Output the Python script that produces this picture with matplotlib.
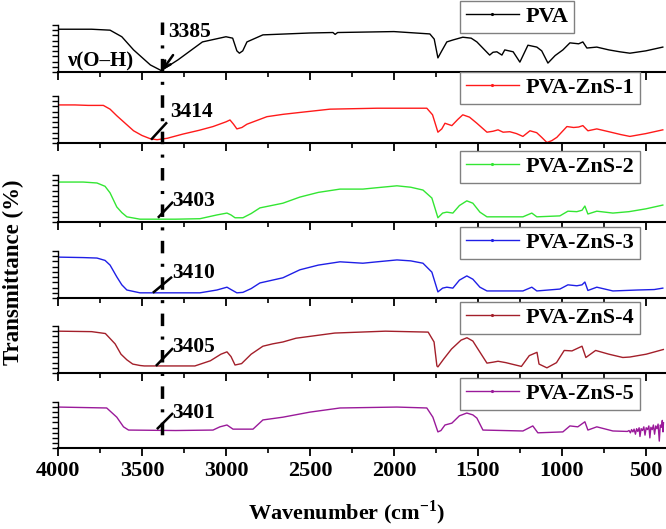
import numpy as np
import matplotlib
matplotlib.use("Agg")
import matplotlib.pyplot as plt
from matplotlib.lines import Line2D
from matplotlib import transforms

plt.rcParams["font.family"] = ["Liberation Serif", "DejaVu Serif"]
plt.rcParams["font.weight"] = "bold"
plt.rcParams["mathtext.fontset"] = "custom"
plt.rcParams["mathtext.rm"] = "Liberation Serif:bold"
plt.rcParams["mathtext.bf"] = "Liberation Serif:bold"
plt.rcParams["lines.scale_dashes"] = False

# ---- data (relative transmittance, 0 = axis, 1 = top) ----
names = ["PVA", "PVA-ZnS-1", "PVA-ZnS-2", "PVA-ZnS-3", "PVA-ZnS-4", "PVA-ZnS-5"]
colors = ["#000000", "#ff1a1a", "#33e633", "#1f1fe6", "#a31f2a", "#9a1a9a"]

wn_pva = [4000, 3800, 3690, 3620, 3550, 3450, 3385, 3285, 3140, 3000, 2960, 2935,
          2920, 2900, 2875, 2780, 2500, 2363, 2350, 2335, 2000, 1786, 1760, 1738,
          1715, 1685, 1650, 1590, 1540, 1506, 1430, 1410, 1387, 1357, 1340, 1290,
          1250, 1202, 1149, 1120, 1083, 1040, 994, 952, 900, 875, 851, 792, 720,
          655, 595, 500, 399]
t_pva = [0.91, 0.91, 0.89, 0.75, 0.47, 0.15, 0.03, 0.26, 0.64, 0.75, 0.72, 0.45,
         0.40, 0.45, 0.64, 0.79, 0.83, 0.84, 0.80, 0.84, 0.86, 0.81, 0.70, 0.30,
         0.45, 0.64, 0.68, 0.74, 0.72, 0.64, 0.36, 0.42, 0.43, 0.36, 0.47, 0.43,
         0.21, 0.57, 0.53, 0.45, 0.19, 0.35, 0.47, 0.62, 0.60, 0.64, 0.51, 0.53,
         0.47, 0.43, 0.40, 0.45, 0.53]

wn_z1 = [4000, 3900, 3820, 3730, 3690, 3650, 3600, 3550, 3500, 3450, 3410, 3350,
         3256, 3160, 3077, 3000, 2976, 2955, 2935, 2905, 2875, 2756, 2660, 2560,
         2381, 2100, 1804, 1770, 1738, 1715, 1696, 1655, 1620, 1590, 1550, 1506,
         1446, 1410, 1380, 1350, 1310, 1270, 1232, 1190, 1150, 1120, 1089, 1060,
         1030, 970, 930, 900, 875, 845, 792, 720, 650, 595, 500, 399]
t_z1 = [0.81, 0.81, 0.80, 0.80, 0.72, 0.58, 0.42, 0.26, 0.16, 0.09, 0.07, 0.10,
        0.19, 0.27, 0.35, 0.45, 0.49, 0.40, 0.30, 0.33, 0.40, 0.56, 0.61, 0.65,
        0.72, 0.74, 0.74, 0.60, 0.23, 0.30, 0.42, 0.37, 0.50, 0.60, 0.55, 0.42,
        0.23, 0.25, 0.28, 0.23, 0.24, 0.20, 0.14, 0.26, 0.22, 0.12, 0.01, 0.05,
        0.12, 0.35, 0.33, 0.34, 0.37, 0.26, 0.30, 0.24, 0.18, 0.14, 0.20, 0.28]

wn_z2 = [4000, 3850, 3768, 3720, 3690, 3650, 3620, 3590, 3512, 3300, 3155, 3054,
         2994, 2970, 2946, 2899, 2850, 2798, 2661, 2560, 2450, 2321, 2185, 2100,
         1982, 1900, 1827, 1774, 1738, 1710, 1685, 1649, 1610, 1566, 1530, 1488,
         1446, 1232, 1179, 1149, 1012, 964, 911, 880, 863, 845, 792, 696, 600,
         500, 399]
t_z2 = [0.85, 0.85, 0.83, 0.76, 0.62, 0.32, 0.20, 0.11, 0.06, 0.06, 0.07, 0.15,
        0.19, 0.15, 0.09, 0.09, 0.18, 0.30, 0.40, 0.53, 0.63, 0.70, 0.70, 0.73,
        0.77, 0.74, 0.68, 0.51, 0.09, 0.19, 0.21, 0.19, 0.35, 0.45, 0.40, 0.21,
        0.11, 0.11, 0.19, 0.11, 0.13, 0.23, 0.22, 0.25, 0.34, 0.17, 0.23, 0.19,
        0.22, 0.28, 0.36]

wn_z3 = [4000, 3850, 3768, 3720, 3690, 3650, 3620, 3590, 3512, 3300, 3155, 3054,
         2994, 2970, 2935, 2899, 2850, 2798, 2661, 2560, 2450, 2321, 2185, 2100,
         1982, 1900, 1827, 1774, 1738, 1710, 1685, 1649, 1610, 1566, 1530, 1488,
         1446, 1232, 1179, 1149, 1012, 964, 911, 880, 863, 845, 792, 696, 550,
         450, 399]
t_z3 = [0.87, 0.86, 0.85, 0.80, 0.70, 0.45, 0.28, 0.17, 0.11, 0.11, 0.11, 0.17,
        0.23, 0.18, 0.11, 0.12, 0.20, 0.32, 0.43, 0.60, 0.70, 0.77, 0.74, 0.77,
        0.81, 0.79, 0.74, 0.55, 0.13, 0.21, 0.23, 0.21, 0.38, 0.47, 0.40, 0.23,
        0.15, 0.15, 0.23, 0.15, 0.19, 0.28, 0.26, 0.28, 0.34, 0.16, 0.23, 0.15,
        0.17, 0.18, 0.21]

wn_z4 = [4000, 3800, 3718, 3660, 3625, 3590, 3555, 3512, 3486, 3185, 3093, 3030,
         2994, 2970, 2946, 2907, 2850, 2780, 2722, 2661, 2583, 2352, 2051, 1796,
         1761, 1744, 1738, 1703, 1657, 1600, 1565, 1530, 1507, 1446, 1410, 1380,
         1333, 1299, 1241, 1194, 1148, 1136, 1089, 1032, 986, 940, 880, 857, 799,
         720, 637, 595, 498, 396]
t_z4 = [0.89, 0.88, 0.84, 0.62, 0.40, 0.28, 0.19, 0.16, 0.15, 0.15, 0.26, 0.40,
        0.45, 0.35, 0.17, 0.20, 0.40, 0.57, 0.62, 0.66, 0.74, 0.85, 0.89, 0.87,
        0.66, 0.15, 0.13, 0.30, 0.51, 0.70, 0.75, 0.68, 0.55, 0.21, 0.23, 0.25,
        0.22, 0.19, 0.14, 0.37, 0.44, 0.19, 0.11, 0.22, 0.48, 0.47, 0.57, 0.33,
        0.48, 0.40, 0.33, 0.34, 0.40, 0.50]

wn_z5 = [4000, 3710, 3650, 3610, 3580, 3300, 3077, 3036, 2994, 2958, 2839, 2780,
         2661, 2500, 2321, 1982, 1804, 1768, 1738, 1720, 1696, 1655, 1610, 1566,
         1530, 1506, 1470, 1232, 1173, 1143, 994, 952, 905, 863, 845, 792, 696,
         610, 600, 592, 585, 577, 570, 562, 555, 548, 540, 535, 528, 520, 512,
         505, 498, 490, 482, 476, 470, 462, 455, 448, 441, 434, 427, 420, 414,
         407, 402, 398, 395]
t_z5 = [0.89, 0.87, 0.67, 0.46, 0.39, 0.38, 0.39, 0.46, 0.50, 0.41, 0.41, 0.61,
        0.67, 0.78, 0.87, 0.89, 0.87, 0.67, 0.35, 0.38, 0.50, 0.54, 0.70, 0.76,
        0.72, 0.65, 0.39, 0.37, 0.48, 0.33, 0.35, 0.48, 0.46, 0.57, 0.39, 0.46,
        0.37, 0.36, 0.38, 0.33, 0.40, 0.35, 0.41, 0.30, 0.42, 0.36, 0.44, 0.25,
        0.42, 0.38, 0.46, 0.28, 0.44, 0.40, 0.48, 0.22, 0.45, 0.40, 0.50, 0.30,
        0.48, 0.42, 0.52, 0.15, 0.50, 0.45, 0.60, 0.35, 0.55]

wavenumbers = [wn_pva, wn_z1, wn_z2, wn_z3, wn_z4, wn_z5]
spectra = [t_pva, t_z1, t_z2, t_z3, t_z4, t_z5]

peak_labels = ["3385", "3414", "3403", "3410", "3405", "3401"]
# leader line: (start wn, start t) -> (end wn, end t); label anchor (wn, t)
leader_start = [(3315, 0.36), (3446, 0.07), (3405, 0.09), (3435, 0.11), (3417, 0.15), (3411, 0.41)]
leader_end = [(3378, 0.04), (3351, 0.44), (3315, 0.43), (3321, 0.45), (3315, 0.53), (3315, 0.76)]
label_pos = [(3345, 0.85), (3335, 0.67), (3318, 0.45), (3322, 0.53), (3318, 0.55), (3318, 0.76)]
oh_peak = 3380

# ---- layout (pixel rows of each panel in the 529 px tall figure) ----
W, H = 666, 529
panel_top = [25, 96, 175, 251, 326, 402]
panel_bot = [72, 143, 222, 298, 373, 448]
left_px, right_px = 58, 666

fig = plt.figure(figsize=(W / 100, H / 100), dpi=100)
axes = []
for i in range(6):
    ax = fig.add_axes([left_px / W, 1 - panel_bot[i] / H,
                       (right_px - left_px) / W, (panel_bot[i] - panel_top[i]) / H])
    axes.append(ax)
    ax.plot(wavenumbers[i], spectra[i], color=colors[i], lw=1.0)
    ax.set_xlim(4000, 380)
    ax.set_ylim(0, 1)
    for s in ["top", "right"]:
        ax.spines[s].set_visible(False)
    ax.spines["bottom"].set_linewidth(1.5)
    ax.spines["left"].set_linewidth(1.0)
    ax.set_xticks(np.arange(4000, 399, -500))
    ax.set_xticks(np.arange(3750, 399, -500), minor=True)
    ax.set_yticks(np.linspace(0, 1, 10))
    ax.set_yticklabels([])
    ax.tick_params(axis="x", which="major", direction="out", length=6, width=1.3)
    ax.tick_params(axis="x", which="minor", direction="out", length=3.5, width=1.2)
    ax.tick_params(axis="y", direction="out", length=4, width=1.0)
    if i < 5:
        ax.set_xticklabels([])
    else:
        ax.tick_params(axis="x", labelsize=16, pad=3)
        for lab in ax.get_xticklabels():
            lab.set_fontweight("bold")

    handle = Line2D([], [], color=colors[i], lw=1.0, marker=".", markersize=2.5)
    leg = ax.legend([handle], [names[i]], loc="upper left",
                    bbox_to_anchor=((460 - left_px) / (right_px - left_px),
                                    1 + 24 / (panel_bot[i] - panel_top[i])),
                    prop={"family": "Liberation Serif", "weight": "bold", "size": 16},
                    fancybox=False, framealpha=1, edgecolor="#808080",
                    handlelength=2.4, handletextpad=0.3, borderpad=0.25,
                    borderaxespad=0, numpoints=1)
    leg.get_frame().set_linewidth(1.0)

    # peak annotation
    if i == 0:
        ax.annotate("", xy=leader_end[i], xytext=leader_start[i],
                    arrowprops=dict(arrowstyle="->", lw=1.8, color="k",
                                    shrinkA=0, shrinkB=0, mutation_scale=12))
        ax.text(3750, 0.23, "ν(O–H)", fontsize=15, fontweight="bold",
                ha="center", va="center")
    else:
        ax.plot([leader_start[i][0], leader_end[i][0]],
                [leader_start[i][1], leader_end[i][1]], color="k", lw=1.8,
                solid_capstyle="butt")
    ax.text(label_pos[i][0], label_pos[i][1], peak_labels[i], fontsize=15.5,
            fontweight="bold", ha="left", va="center")

# dash-dot guide line through all panels
trans = transforms.blended_transform_factory(axes[0].transData, fig.transFigure)
guide = Line2D([oh_peak, oh_peak], [1 - 22 / H, 1 - 443 / H], transform=trans,
               color="k", lw=2.5, linestyle=(0, (9, 7.5, 2.2, 7.5)), clip_on=False)
fig.add_artist(guide)

fig.text(0.52, 1 - 513 / H, r"Wavenumber (cm$^{\mathbf{-1}}$)", fontsize=16,
         fontweight="bold", ha="center", va="center")
fig.text(0.02, 1 - 272 / H, "Transmittance (%)", fontsize=16.5, fontweight="bold",
         rotation=90, ha="center", va="center")

fig.savefig("out.png", dpi=100)
